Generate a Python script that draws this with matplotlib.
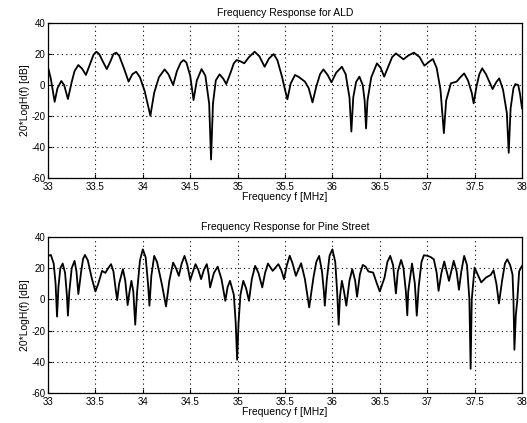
import matplotlib
matplotlib.use("Agg")
import matplotlib.pyplot as plt

plt.rcParams['font.family'] = ['Liberation Sans', 'DejaVu Sans']
plt.rcParams['axes.unicode_minus'] = False

# ALD response (MHz, dB)
ald_f = [33.00, 33.03, 33.07, 33.10, 33.14, 33.17, 33.21, 33.25, 33.28, 33.32,
         33.36, 33.40, 33.44, 33.48, 33.51, 33.54, 33.58, 33.62, 33.66, 33.69,
         33.72, 33.75, 33.80, 33.85, 33.89, 33.93, 33.97, 34.02, 34.08, 34.12,
         34.17, 34.23, 34.27, 34.32, 34.36, 34.40, 34.43, 34.46, 34.50, 34.535,
         34.57, 34.62, 34.66, 34.70, 34.72, 34.74, 34.77, 34.81, 34.85, 34.88,
         34.92, 34.96, 34.99, 35.03, 35.07, 35.12, 35.18, 35.23, 35.285, 35.33,
         35.38, 35.42, 35.47, 35.50, 35.525, 35.56, 35.606, 35.65, 35.71, 35.75,
         35.79, 35.83, 35.87, 35.905, 35.95, 35.99, 36.04, 36.10, 36.14, 36.18,
         36.20, 36.22, 36.25, 36.285, 36.32, 36.34, 36.355, 36.37, 36.41, 36.47,
         36.51, 36.546, 36.59, 36.63, 36.67, 36.71, 36.75, 36.80, 36.86, 36.92,
         36.97, 37.02, 37.06, 37.10, 37.14, 37.176, 37.20, 37.25, 37.31, 37.35,
         37.39, 37.43, 37.47, 37.49, 37.52, 37.55, 37.58, 37.62, 37.69, 37.73,
         37.76, 37.80, 37.84, 37.86, 37.88, 37.91, 37.93, 37.96, 37.98, 38.00]
ald_db = [11.5, 4.0, -10.8, -2.0, 2.6, 0.0, -9.0, 2.0, 9.0, 12.9,
          10.5, 6.5, 13.0, 19.5, 21.5, 20.0, 15.0, 10.3, 15.5, 20.0,
          20.9, 19.0, 11.0, 2.2, 7.0, 8.6, 5.0, -4.0, -19.8, -5.0,
          5.0, 10.1, 7.0, 0.0, 9.0, 14.5, 16.1, 14.5, 6.0, -9.7,
          3.0, 10.3, 6.0, -12.0, -48.0, -12.0, 3.0, 6.9, 4.0, 0.6,
          7.0, 14.0, 16.1, 15.3, 14.0, 18.0, 21.5, 18.5, 11.8, 17.0,
          20.0, 16.0, 5.0, -3.0, -9.2, 1.0, 6.5, 5.0, 2.2, -2.0,
          -11.2, -1.0, 7.0, 10.1, 6.5, 1.7, 8.0, 11.8, 7.0, -8.0,
          -30.0, -8.0, 2.0, 5.4, 0.0, -10.0, -28.0, -10.0, 5.0, 14.0,
          11.0, 5.4, 12.0, 18.0, 20.4, 18.5, 16.6, 19.0, 20.9, 18.0,
          12.5, 15.0, 16.8, 11.0, -3.0, -31.0, -10.0, 1.1, 2.2, 5.0,
          7.5, 3.0, -5.0, -11.8, -1.0, 7.0, 10.8, 7.0, -2.6, 2.0,
          4.3, -3.0, -18.0, -43.7, -15.0, -2.0, 0.6, 0.0, -6.0, -15.0]

# Pine Street response
pine_f = [33.00, 33.03, 33.06, 33.08, 33.095, 33.11, 33.13, 33.155, 33.18, 33.20,
          33.21, 33.225, 33.25, 33.28, 33.30, 33.32, 33.35, 33.37, 33.39, 33.42,
          33.46, 33.50, 33.53, 33.57, 33.605, 33.635, 33.665, 33.69, 33.715, 33.73,
          33.75, 33.79, 33.815, 33.84, 33.86, 33.88, 33.90, 33.92, 33.94, 33.97,
          34.00, 34.03, 34.055, 34.07, 34.09, 34.12, 34.15, 34.20, 34.245, 34.28,
          34.32, 34.35, 34.38, 34.41, 34.44, 34.47, 34.50, 34.53, 34.556, 34.585,
          34.615, 34.645, 34.675, 34.695, 34.71, 34.75, 34.79, 34.83, 34.87, 34.895,
          34.92, 34.96, 34.98, 34.995, 35.01, 35.03, 35.06, 35.09, 35.12, 35.15,
          35.185, 35.22, 35.26, 35.29, 35.32, 35.37, 35.43, 35.46, 35.49, 35.52,
          35.55, 35.58, 35.615, 35.67, 35.71, 35.755, 35.80, 35.83, 35.86, 35.89,
          35.91, 35.92, 35.94, 35.97, 36.00, 36.03, 36.05, 36.066, 36.08, 36.10,
          36.12, 36.147, 36.18, 36.21, 36.24, 36.26, 36.29, 36.32, 36.35, 36.38,
          36.43, 36.47, 36.50, 36.55, 36.58, 36.61, 36.64, 36.67, 36.69, 36.725,
          36.75, 36.775, 36.79, 36.80, 36.84, 36.87, 36.89, 36.91, 36.94, 36.965,
          37.00, 37.035, 37.07, 37.10, 37.12, 37.15, 37.18, 37.23, 37.28, 37.31,
          37.335, 37.36, 37.39, 37.42, 37.445, 37.458, 37.47, 37.50, 37.57, 37.62,
          37.67, 37.70, 37.73, 37.757, 37.79, 37.82, 37.845, 37.875, 37.90, 37.91,
          37.92, 37.935, 37.95, 37.97, 38.00]
pine_db = [27.9, 28.5, 23.0, 10.0, -11.0, 8.0, 20.0, 23.0, 17.0, 2.0,
           -10.4, 5.0, 20.0, 24.7, 18.0, 3.4, 18.0, 26.0, 28.5, 25.0,
           14.0, 5.1, 10.0, 18.3, 17.0, 20.0, 22.6, 18.0, 6.0, -0.4,
           10.0, 19.4, 12.0, -3.6, 5.0, 11.9, 5.0, -16.2, 5.0, 25.0,
           32.1, 27.0, 10.0, -4.0, 15.0, 27.9, 24.0, 10.0, -4.5, 12.0,
           23.6, 20.0, 15.1, 23.0, 27.9, 22.0, 12.3, 18.0, 22.6, 19.0,
           13.0, 19.0, 22.6, 16.0, 7.7, 17.0, 21.0, 13.0, -0.9, 8.0,
           11.9, 3.0, -15.0, -38.7, -15.0, 3.0, 11.9, 7.0, -0.9, 13.0,
           21.5, 17.0, 7.7, 17.0, 23.0, 18.3, 22.6, 19.0, 13.0, 22.0,
           28.0, 23.0, 15.1, 23.2, 13.0, -5.1, 14.0, 24.0, 27.9, 18.0,
           5.0, -4.0, 12.0, 28.0, 32.1, 24.0, 5.0, -16.2, 2.0, 11.9,
           6.0, -4.0, 12.0, 19.4, 12.0, 1.7, 16.0, 22.1, 21.0, 17.9,
           17.2, 10.0, 5.1, 14.0, 24.0, 27.9, 22.0, 3.8, 18.0, 25.3,
           20.0, 5.0, -10.2, 5.0, 23.0, 10.0, -10.4, 8.0, 24.0, 28.3,
           28.0, 27.2, 25.7, 17.0, 5.5, 17.0, 24.3, 11.9, 24.7, 18.0,
           6.2, 18.0, 27.9, 22.0, 0.0, -44.5, 0.0, 20.4, 10.9, 14.0,
           15.7, 18.7, 10.0, -2.6, 12.0, 23.0, 25.7, 22.0, 16.0, 0.0,
           -32.3, -10.0, -0.9, 18.0, 21.5]

x_ticks = [33, 33.5, 34, 34.5, 35, 35.5, 36, 36.5, 37, 37.5, 38]
x_tick_labels = ['33', '33.5', '34', '34.5', '35', '35.5', '36', '36.5', '37', '37.5', '38']
y_ticks = [-60, -40, -20, 0, 20, 40]

fig = plt.figure(figsize=(5.27, 4.23), dpi=100)
ax1 = fig.add_axes([0.0911, 0.579, 0.8994, 0.3666])
ax2 = fig.add_axes([0.0911, 0.0709, 0.8994, 0.3688])

panels = [(ax1, ald_f, ald_db, 'Frequency Response for ALD'),
          (ax2, pine_f, pine_db, 'Frequency Response for Pine Street')]

for ax, f, db, title in panels:
    ax.plot(f, db, color='black', linewidth=1.3, solid_joinstyle='round')
    ax.set_xlim(33, 38)
    ax.set_ylim(-60, 40)
    ax.set_xticks(x_ticks)
    ax.set_xticklabels(x_tick_labels)
    ax.set_yticks(y_ticks)
    ax.grid(True, color='black', linestyle=(0, (1, 3)), linewidth=0.8)
    ax.tick_params(direction='in', labelsize=7, length=3)
    ax.tick_params(axis='x', pad=3)
    ax.tick_params(axis='y', pad=2)
    ax.set_title(title, fontsize=7.5, pad=5)
    ax.set_xlabel('Frequency f [MHz]', fontsize=7.5, labelpad=0)
    ax.set_ylabel('20*LogH(f) [dB]', fontsize=7.5, labelpad=1)
    for s in ax.spines.values():
        s.set_linewidth(0.9)

fig.savefig('out.png', dpi=100)
